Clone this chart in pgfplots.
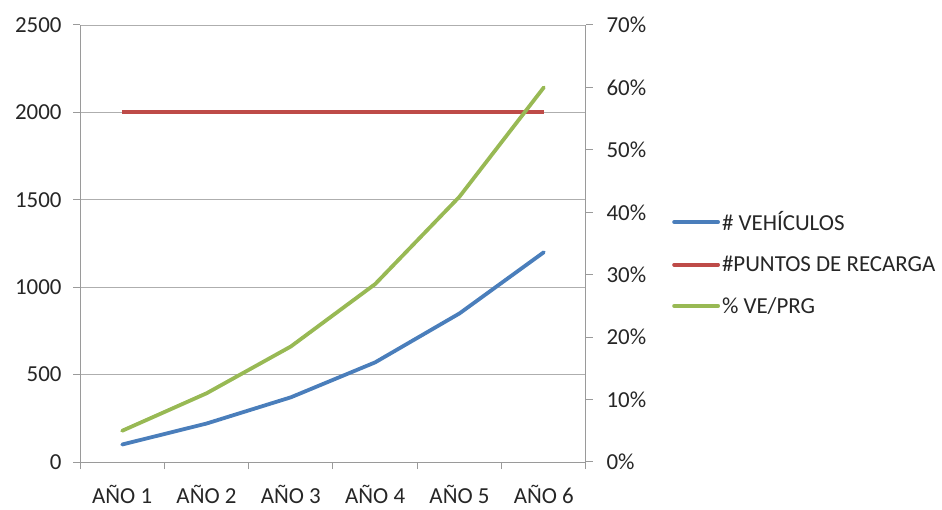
\documentclass[border=0pt]{standalone}
\usepackage{fontspec}
\setmainfont{Carlito}
\usepackage{pgfplots}
\pgfplotsset{compat=1.18}
\definecolor{cblue}{HTML}{4A7EBB}
\definecolor{cred}{HTML}{BE4B48}
\definecolor{cgreen}{HTML}{98B954}
\definecolor{axgray}{HTML}{9A9A9A}
\definecolor{txt}{HTML}{262626}
\begin{document}
\begin{tikzpicture}
\useasboundingbox (0,0) rectangle (942bp,510bp);
\pgfplotsset{every axis/.append style={
  scale only axis, width=506bp, height=437bp,
  at={(80bp,48bp)}, anchor=south west,
  xmin=-0.5, xmax=5.5,
  font=\fontsize{23}{27}\selectfont, text=txt,
  /pgf/number format/assume math mode=true,
  /pgf/number format/set thousands separator={},
  tick align=outside, major tick length=0bp, minor tick length=7bp,
  axis line style={axgray, line width=1bp},
  tick style={axgray, line width=1bp},
  every axis plot/.append style={line width=3.8bp, line join=round, line cap=round},
}}
\begin{axis}[
  axis x line*=bottom, axis y line*=left,
  ymin=0, ymax=2500, ytick={0,500,...,2500}, minor ytick={0,500,...,2500},
  ymajorgrids, grid style={axgray!80, line width=0.9bp},
  xtick={0,...,5}, xticklabels={AÑO 1,AÑO 2,AÑO 3,AÑO 4,AÑO 5,AÑO 6},
  minor xtick={-0.5,0.5,...,5.5},
  yticklabel style={xshift=-15bp},
  xticklabel style={yshift=-20bp},
]
\addplot[cblue] coordinates {(0,100) (1,220) (2,370) (3,570) (4,850) (5,1200)};
\addplot[cred, line cap=butt] coordinates {(0,2000) (1,2000) (2,2000) (3,2000) (4,2000) (5,2000)};
\end{axis}
\begin{axis}[
  axis x line=none, axis y line*=right,
  ymin=0, ymax=70, ytick={0,10,...,70}, minor ytick={0,10,...,70},
  yticklabel={\pgfmathprintnumber{\tick}\%},
  yticklabel style={xshift=17bp},
  legend style={draw=none, fill=none, at={(1.17,0.455)}, anchor=west,
    legend cell align=left, row sep=20bp, inner sep=0pt,
    font=\fontsize{23}{27}\selectfont},
  legend image code/.code={\draw[#1, line cap=round] (0bp,0bp) -- (44bp,0bp);},
]
\addlegendimage{cblue, line width=3.8bp}
\addlegendentry{\# VEHÍCULOS}
\addlegendimage{cred, line width=3.8bp}
\addlegendentry{\#PUNTOS DE RECARGA}
\addplot[cgreen] coordinates {(0,5) (1,11) (2,18.5) (3,28.5) (4,42.5) (5,60)};
\addlegendentry{\% VE/PRG}
\end{axis}
\end{tikzpicture}
\end{document}
